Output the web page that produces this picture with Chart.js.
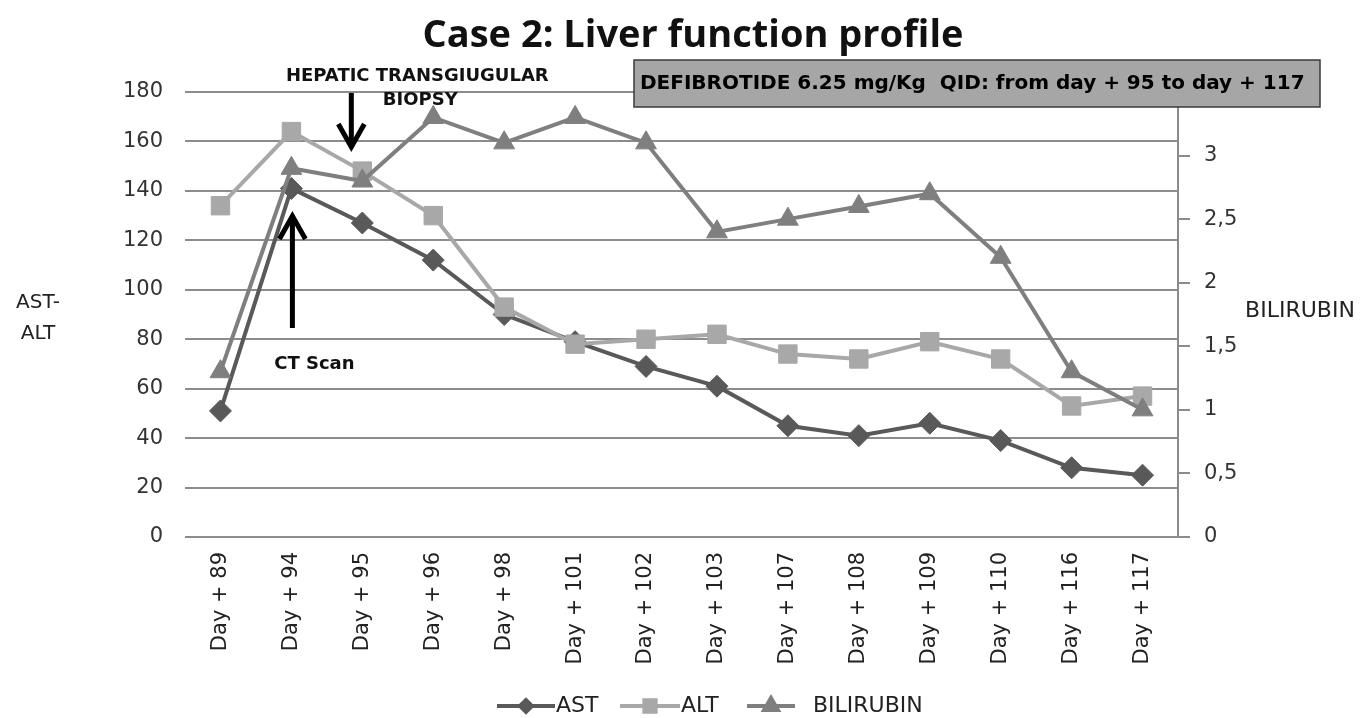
<!DOCTYPE html>
<html>
<head>
<meta charset="utf-8">
<script src="https://cdn.jsdelivr.net/npm/chart.js@4"></script>
<style>
html,body{margin:0;padding:0;background:#fff;}
#wrap{width:1361px;height:718px;position:relative;}
</style>
</head>
<body>
<div id="wrap"><canvas id="c" width="1361" height="718"></canvas></div>
<script>
const categories = ['Day + 89','Day + 94','Day + 95','Day + 96','Day + 98','Day + 101','Day + 102','Day + 103','Day + 107','Day + 108','Day + 109','Day + 110','Day + 116','Day + 117'];
const astValues = [51, 141, 127, 112, 90, 79, 69, 61, 45, 41, 46, 39, 28, 25];
const altValues = [134, 164, 148, 130, 93, 78, 80, 82, 74, 72, 79, 72, 53, 57];
const bilirubinValues = [1.3, 2.9, 2.8, 3.3, 3.1, 3.3, 3.1, 2.4, 2.5, 2.6, 2.7, 2.2, 1.3, 1.0];
const leftAxisRange = {min: 0, max: 180, step: 20};
const rightAxisRange = {min: 0, max: 3.5, step: 0.5};
const titleText = 'Case 2: Liver function profile';
const boxText = 'DEFIBROTIDE 6.25 mg/Kg  QID: from day + 95 to day + 117';

const FONT = '"DejaVu Sans", Verdana, sans-serif';
const C_AST = '#595959', C_ALT = '#a8a8a8', C_BIL = '#7f7f7f';

function arrow(ctx, x, y1, y2) {
  ctx.save();
  ctx.strokeStyle = '#000'; ctx.lineWidth = 5; ctx.lineCap = 'butt';
  ctx.beginPath(); ctx.moveTo(x, y1); ctx.lineTo(x, y2 + (y2 > y1 ? -3 : 3)); ctx.stroke();
  const d = y2 > y1 ? -1 : 1;
  ctx.lineJoin = 'miter'; ctx.lineWidth = 5;
  ctx.beginPath();
  ctx.moveTo(x - 13, y2 + d * 23); ctx.lineTo(x, y2); ctx.lineTo(x + 13, y2 + d * 23);
  ctx.stroke();
  ctx.restore();
}

const decor = {
  id: 'decor',
  afterDraw(chart) {
    const ctx = chart.ctx;
    const xs = chart.scales.x;
    ctx.save();
    // title
    ctx.fillStyle = '#111';
    ctx.font = 'bold 38px "Open Sans", sans-serif';
    ctx.textAlign = 'center'; ctx.textBaseline = 'middle';
    ctx.fillText(titleText, 693, 36);
    // axis titles
    ctx.font = '20px ' + FONT;
    ctx.fillStyle = '#222';
    ctx.fillText('AST-', 38, 303);
    ctx.fillText('ALT', 38, 334);
    ctx.font = '22px ' + FONT;
    ctx.fillText('BILIRUBIN', 1300, 311);
    // annotations
    const x94 = xs.getPixelForValue(1);
    const x95 = xs.getPixelForValue(2);
    ctx.font = 'bold 18px ' + FONT;
    ctx.fillStyle = '#111';
    ctx.fillText('HEPATIC TRANSGIUGULAR', x95 + 55, 76);
    ctx.fillText('BIOPSY', x95 + 58, 100);
    ctx.fillText('CT Scan', x94 + 23, 364);
    arrow(ctx, x95 - 11, 93, 147);
    arrow(ctx, x94 + 1, 328, 216);
    // box
    ctx.fillStyle = '#a6a6a6';
    ctx.fillRect(634, 60, 686, 47);
    ctx.strokeStyle = '#3a3a3a'; ctx.lineWidth = 1.5;
    ctx.strokeRect(634, 60, 686, 47);
    ctx.fillStyle = '#000';
    ctx.font = 'bold 20px ' + FONT;
    ctx.textAlign = 'left';
    ctx.fillText(boxText, 640, 84);
    // legend
    const items = [
      {label: 'AST', color: C_AST, style: 'rectRot', r: 6, x: 497, w: 58, t: 556},
      {label: 'ALT', color: C_ALT, style: 'rect', r: 8, x: 620, w: 60, t: 681},
      {label: 'BILIRUBIN', color: C_BIL, style: 'triangle', r: 8, x: 747, w: 48, t: 813}
    ];
    const ly = 706;
    ctx.font = '22px ' + FONT;
    items.forEach(it => {
      ctx.strokeStyle = it.color; ctx.lineWidth = 4;
      ctx.beginPath(); ctx.moveTo(it.x, ly); ctx.lineTo(it.x + it.w, ly); ctx.stroke();
      ctx.fillStyle = it.color; ctx.strokeStyle = it.color;
      Chart.helpers.drawPoint(ctx, {pointStyle: it.style, radius: it.r, borderWidth: 1}, it.x + it.w / 2, ly);
      ctx.fillStyle = '#222';
      ctx.textAlign = 'left';
      ctx.fillText(it.label, it.t, ly);
    });
    ctx.restore();
  }
};

new Chart(document.getElementById('c'), {
  type: 'line',
  data: {
    labels: categories,
    datasets: [
      {label: 'AST', data: astValues, yAxisID: 'y', borderColor: C_AST, backgroundColor: C_AST,
       borderWidth: 4, pointStyle: 'rectRot', pointRadius: 11, pointBorderWidth: 1, tension: 0, order: 3},
      {label: 'ALT', data: altValues, yAxisID: 'y', borderColor: C_ALT, backgroundColor: C_ALT,
       borderWidth: 4, pointStyle: 'rect', pointRadius: 13, pointBorderWidth: 1, tension: 0, order: 2},
      {label: 'BILIRUBIN', data: bilirubinValues, yAxisID: 'y1', borderColor: C_BIL, backgroundColor: C_BIL,
       borderWidth: 4, pointStyle: 'triangle', pointRadius: 12, pointBorderWidth: 1, tension: 0, order: 1}
    ]
  },
  options: {
    responsive: false,
    animation: false,
    layout: {padding: {top: 92, bottom: 40, left: 0, right: 0}},
    plugins: {legend: {display: false}, title: {display: false}, tooltip: {enabled: false}},
    scales: {
      x: {
        offset: true,
        grid: {display: false, drawTicks: false, offset: true},
        border: {display: false},
        ticks: {maxRotation: 90, minRotation: 90, padding: 15, color: '#222', font: {family: FONT, size: 21}},
        afterFit(s) { s.height = 141; }
      },
      y: {
        position: 'left',
        min: leftAxisRange.min, max: leftAxisRange.max,
        ticks: {stepSize: leftAxisRange.step, padding: 22, color: '#333', font: {family: FONT, size: 21}},
        grid: {color: '#8c8c8c', lineWidth: 2, drawTicks: false},
        border: {display: false},
        afterFit(s) { s.width = 185; }
      },
      y1: {
        position: 'right',
        min: rightAxisRange.min, max: rightAxisRange.max,
        ticks: {stepSize: rightAxisRange.step, padding: 14, color: '#333', font: {family: FONT, size: 21},
          callback: v => (v >= 3.5 ? '' : String(v).replace('.', ','))},
        grid: {drawOnChartArea: false, color: '#8c8c8c', lineWidth: 2, tickLength: 12},
        border: {display: true, color: '#8c8c8c', width: 2},
        afterFit(s) { s.width = 183; }
      }
    }
  },
  plugins: [decor]
});
</script>
</body>
</html>
